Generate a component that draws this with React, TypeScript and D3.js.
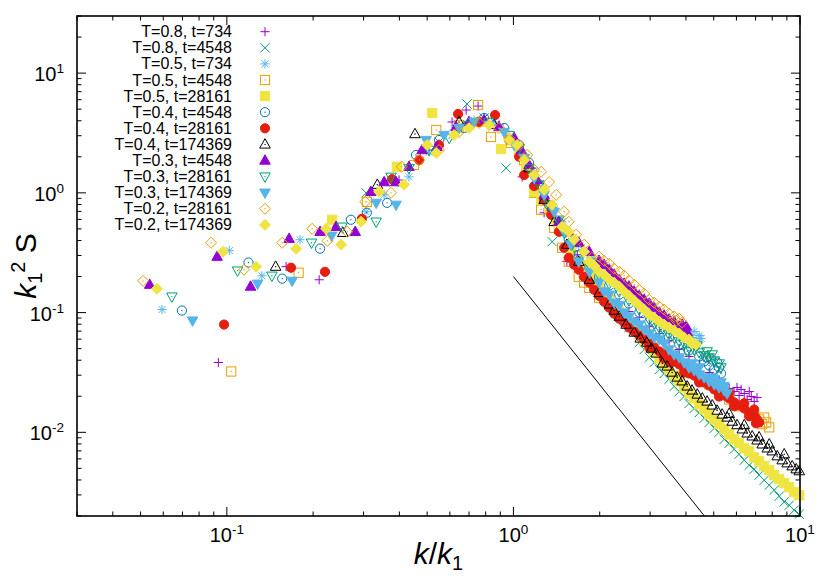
import * as d3 from 'd3';

const width = 830;
const height = 581;
const plot = { left: 77, right: 800, top: 16, bottom: 516 };

// legend labels, in plotting order
const seriesLabels = [
  'T=0.8, t=734', 'T=0.8, t=4548', 'T=0.5, t=734', 'T=0.5, t=4548', 'T=0.5, t=28161',
  'T=0.4, t=4548', 'T=0.4, t=28161', 'T=0.4, t=174369', 'T=0.3, t=4548', 'T=0.3, t=28161',
  'T=0.3, t=174369', 'T=0.2, t=28161', 'T=0.2, t=174369',
];

// [k/k1, k1^2 S]
const T08_t734: [number, number][] = [
  [0.0934, 0.0383], [0.161, 0.242], [0.210, 0.188], [0.399, 1.28], [0.508, 2.28], [0.611, 3.91], [0.684, 4.92],
  [0.753, 5.31], [0.891, 3.69], [1.073, 1.36], [1.16, 1.61], [1.28, 0.682], [1.387, 0.619], [1.537, 0.267],
  [1.67, 0.304], [1.84, 0.188], [1.99, 0.161],
  [2.16, 0.136], [2.34, 0.121], [2.53, 0.102], [2.75, 0.0908], [2.98, 0.0764], [3.23, 0.0669], [3.49, 0.0585],
  [3.79, 0.0492], [4.10, 0.0430], [4.45, 0.0369], [4.82, 0.0316], [5.22, 0.0272], [5.44, 0.0257], [5.66, 0.0232],
  [5.89, 0.0219], [6.03, 0.0237], [6.13, 0.0203], [6.23, 0.0228], [6.39, 0.0211], [6.54, 0.0188], [6.65, 0.0219],
  [6.76, 0.0199], [6.92, 0.0181], [7.08, 0.0195],
];
const T08_t4548: [number, number][] = [
  [0.306, 1.0], [0.383, 1.23], [0.550, 2.66], [0.689, 5.52], [0.790, 4.22], [0.943, 1.61], [1.047, 2.28],
  [1.134, 1.50], [1.229, 1.17], [1.365, 0.391], [1.56, 0.304], [1.69, 0.251], [1.84, 0.207], [1.99, 0.161],
  [2.16, 0.128], [2.34, 0.100],
  [2.53, 0.0750], [2.75, 0.0563], [2.86, 0.0492], [2.98, 0.0422], [3.10, 0.0383], [3.23, 0.0335], [3.36, 0.0310],
  [3.49, 0.0277], [3.64, 0.0242], [3.79, 0.0219], [3.94, 0.0199], [4.10, 0.0174], [4.27, 0.0158], [4.45, 0.0146],
  [4.63, 0.0131], [4.82, 0.0121], [5.02, 0.0108], [5.22, 0.0100], [5.44, 0.00874], [5.66, 0.00810], [5.89, 0.00722],
  [6.13, 0.00656], [6.39, 0.00585], [6.65, 0.00531], [6.92, 0.00492], [7.20, 0.00439], [7.50, 0.00398],
  [7.81, 0.00362], [8.13, 0.00329], [8.46, 0.00293], [8.81, 0.00262], [9.17, 0.00246], [9.54, 0.00224], [9.94, 0.00207],
];
const T05_t734: [number, number][] = [
  [0.0594, 0.106], [0.102, 0.329], [0.1325, 0.203], [0.180, 0.406], [0.306, 0.695], [0.354, 0.962], [0.432, 1.36],
  [0.508, 2.19], [0.621, 3.35], [0.729, 4.06], [0.856, 3.91], [1.006, 2.76], [1.09, 1.96], [1.181, 1.50],
  [1.28, 1.02], [1.387, 0.722], [1.479, 0.573],
  [1.56, 0.447], [1.629, 0.406], [1.69, 0.362], [1.765, 0.335], [1.84, 0.304], [1.913, 0.282], [1.99, 0.262],
  [2.073, 0.237], [2.16, 0.219], [2.246, 0.199], [2.34, 0.181], [2.434, 0.168], [2.53, 0.155], [2.638, 0.144],
  [2.75, 0.133], [2.859, 0.123], [2.98, 0.115], [3.098, 0.104], [3.23, 0.0962], [3.36, 0.0908], [3.49, 0.0841],
  [3.64, 0.0779], [3.79, 0.0722], [3.94, 0.0682], [4.10, 0.0656], [4.20, 0.0619], [4.27, 0.0695], [4.34, 0.0585],
  [4.45, 0.0644], [4.52, 0.0608],
];
const T05_t4548: [number, number][] = [
  [0.1036, 0.0322], [0.178, 0.215], [0.308, 0.841], [0.450, 1.71], [0.538, 3.35], [0.646, 3.69], [0.753, 5.41],
  [0.835, 2.93], [0.981, 2.61], [1.09, 1.88], [1.181, 1.0], [1.249, 0.722], [1.387, 0.51], [1.479, 0.348],
  [1.56, 0.266], [1.69, 0.199], [1.765, 0.178], [1.84, 0.161],
  [1.99, 0.133], [2.16, 0.115], [2.34, 0.0944], [2.53, 0.0841], [2.75, 0.0695], [2.98, 0.0596], [3.23, 0.0511],
  [3.49, 0.0447], [3.79, 0.0391], [4.10, 0.0335], [4.45, 0.0287], [4.82, 0.0251], [5.22, 0.0215], [5.66, 0.0188],
  [6.13, 0.0165], [6.65, 0.0144], [6.92, 0.0138], [7.20, 0.0128], [7.38, 0.0117], [7.50, 0.0133], [7.62, 0.0121],
  [7.81, 0.0110],
];
const T05_t28161: [number, number][] = [
  [0.233, 0.596], [0.392, 1.65], [0.521, 4.64], [0.646, 3.48], [0.759, 3.91], [0.906, 2.32], [1.047, 2.19],
  [1.107, 1.56], [1.181, 1.02], [1.249, 0.874], [1.332, 0.75], [1.41, 0.573], [1.503, 0.474], [1.587, 0.335],
  [1.69, 0.266], [1.765, 0.237], [1.84, 0.207], [1.913, 0.184],
  [1.99, 0.161], [2.073, 0.144], [2.16, 0.128], [2.246, 0.115], [2.34, 0.102], [2.434, 0.0908], [2.53, 0.0809],
  [2.638, 0.0735], [2.75, 0.0656], [2.859, 0.0585], [2.98, 0.0521], [3.098, 0.0474], [3.23, 0.0414], [3.357, 0.0376],
  [3.49, 0.0335], [3.638, 0.0298], [3.79, 0.0267], [3.943, 0.0237], [4.10, 0.0211], [4.273, 0.0192], [4.45, 0.0171],
  [4.63, 0.0155], [4.82, 0.0141], [5.02, 0.0128], [5.22, 0.0117], [5.44, 0.0106], [5.66, 0.00962], [5.89, 0.00874],
  [6.13, 0.00810], [6.39, 0.00735], [6.65, 0.00695], [6.92, 0.00619], [7.20, 0.00574], [7.50, 0.00521],
  [7.81, 0.00483], [8.13, 0.00439], [8.46, 0.00406], [8.81, 0.00376], [9.17, 0.00348], [9.54, 0.00316], [9.94, 0.00298],
];
const T04_t4548: [number, number][] = [
  [0.0697, 0.104], [0.119, 0.262], [0.156, 0.192], [0.2115, 0.342], [0.271, 0.596], [0.308, 0.682], [0.3625, 0.825],
  [0.457, 2.07], [0.550, 2.76], [0.673, 3.48], [0.790, 4.22], [0.928, 3.48], [1.047, 2.51], [1.134, 1.78],
  [1.229, 1.17], [1.332, 0.794], [1.44, 0.573], [1.56, 0.406],
  [1.69, 0.304], [1.84, 0.246], [1.99, 0.199], [2.16, 0.168], [2.34, 0.141], [2.53, 0.119],
  [2.75, 0.100], [2.98, 0.0841], [3.23, 0.0722], [3.49, 0.0619], [3.79, 0.0541], [4.10, 0.0483], [4.45, 0.0430],
  [4.63, 0.0391], [4.71, 0.0422], [4.82, 0.0362], [4.90, 0.0406], [5.02, 0.0335], [5.14, 0.0383], [5.22, 0.0348],
  [5.30, 0.0310],
];
const T04_t28161: [number, number][] = [
  [0.0978, 0.0794], [0.1675, 0.237], [0.220, 0.219], [0.296, 0.607], [0.377, 1.30], [0.469, 1.88], [0.550, 2.51],
  [0.641, 4.56], [0.759, 3.91], [0.863, 4.47], [0.966, 2.76], [1.047, 2.0], [1.090, 1.41], [1.181, 1.14],
  [1.280, 0.874], [1.354, 0.656], [1.44, 0.473],
  [1.503, 0.348], [1.56, 0.287], [1.629, 0.251], [1.69, 0.228], [1.765, 0.199], [1.84, 0.178], [1.913, 0.155],
  [1.99, 0.138], [2.073, 0.123], [2.16, 0.110], [2.246, 0.098], [2.34, 0.089], [2.434, 0.0825], [2.53, 0.0750],
  [2.638, 0.0695], [2.75, 0.0644], [2.859, 0.0596], [2.98, 0.0552], [2.98, 0.0511], [3.098, 0.0511], [3.23, 0.0474],
  [3.357, 0.0447], [3.357, 0.0414],
  [3.49, 0.0422], [3.54, 0.0383], [3.638, 0.0391], [3.79, 0.0369], [3.943, 0.0342], [3.943, 0.0316], [4.10, 0.0310],
  [4.10, 0.0348], [4.273, 0.0298], [4.45, 0.0277], [4.45, 0.0261], [4.63, 0.0261], [4.82, 0.0246], [5.02, 0.0228],
  [5.02, 0.0261], [5.22, 0.0215], [5.22, 0.0199], [5.44, 0.0203], [5.66, 0.0192], [5.66, 0.0215], [5.89, 0.0178],
  [5.89, 0.0165], [6.13, 0.0168], [6.39, 0.0158], [6.39, 0.0175], [6.65, 0.0146], [6.65, 0.0136], [6.92, 0.0138],
  [6.92, 0.0155], [7.02, 0.0119], [7.08, 0.0128], [7.20, 0.0121],
];
const T04_t174369: [number, number][] = [
  [0.148, 0.242], [0.254, 0.464], [0.335, 1.17], [0.4535, 3.10], [0.646, 3.91], [0.856, 3.69], [1.006, 2.76],
  [1.134, 1.61], [1.28, 0.874], [1.387, 0.573], [1.537, 0.369], [1.69, 0.266], [1.84, 0.188], [1.99, 0.146],
  [2.16, 0.117], [2.246, 0.104], [2.34, 0.0926], [2.474, 0.0794],
  [2.638, 0.0682], [2.77, 0.0608], [2.92, 0.0563], [3.03, 0.0501], [3.15, 0.0456], [3.31, 0.0376], [3.44, 0.0355],
  [3.58, 0.0316], [3.73, 0.0287], [3.88, 0.0267], [4.04, 0.0242], [4.20, 0.0224], [4.38, 0.0207], [4.56, 0.0192],
  [4.74, 0.0181], [4.94, 0.0168], [5.14, 0.0152], [5.35, 0.0141], [5.57, 0.0133], [5.66, 0.0143], [5.80, 0.0123],
  [6.03, 0.0115], [6.29, 0.0106], [6.39, 0.0115], [6.54, 0.0098], [6.81, 0.00926], [7.08, 0.00857], [7.20, 0.0091],
  [7.38, 0.00794], [7.69, 0.00735], [7.81, 0.00794], [8.00, 0.00695], [8.33, 0.00632], [8.67, 0.00585],
  [8.81, 0.00656], [9.02, 0.00552], [9.39, 0.00521], [9.70, 0.00492], [9.94, 0.00474],
];
const T03_t4548: [number, number][] = [
  [0.0538, 0.171], [0.0925, 0.293], [0.121, 0.165], [0.165, 0.414], [0.2115, 0.473], [0.2405, 0.521], [0.2805, 0.473],
  [0.318, 1.02], [0.354, 1.23], [0.3895, 1.23], [0.432, 1.65], [0.480, 2.28], [0.541, 2.42], [0.631, 3.55],
  [0.700, 3.91], [0.790, 4.06], [0.891, 3.55], [1.006, 2.87], [1.065, 2.28], [1.134, 1.71], [1.21, 1.28],
  [1.280, 0.962], [1.365, 0.764], [1.44, 0.573],
  [1.56, 0.473], [1.69, 0.384], [1.84, 0.322], [1.99, 0.271], [2.073, 0.251], [2.16, 0.228], [2.246, 0.207],
  [2.34, 0.188], [2.434, 0.1745], [2.53, 0.165], [2.638, 0.150], [2.75, 0.138], [2.859, 0.128], [2.98, 0.119],
  [3.098, 0.110], [3.23, 0.100], [3.357, 0.0944], [3.49, 0.0874], [3.638, 0.0841], [3.79, 0.0764], [3.88, 0.0794],
  [3.943, 0.0708], [4.01, 0.0764], [4.04, 0.0682],
];
const T03_t28161: [number, number][] = [
  [0.0643, 0.136], [0.109, 0.224], [0.1436, 0.203], [0.1975, 0.383], [0.2524, 0.521], [0.332, 0.574], [0.374, 1.36],
  [0.432, 1.61], [0.508, 2.28], [0.597, 2.87], [0.700, 3.69], [0.822, 3.91], [0.966, 3.04], [1.047, 2.37],
  [1.134, 1.61], [1.229, 1.17], [1.332, 0.794], [1.44, 0.596], [1.503, 0.464], [1.60, 0.369],
  [1.69, 0.304], [1.84, 0.251], [1.99, 0.207], [2.16, 0.1745], [2.34, 0.150],
  [2.53, 0.126], [2.75, 0.106], [2.98, 0.0874], [3.098, 0.0809], [3.23, 0.0750], [3.357, 0.0708], [3.49, 0.0656],
  [3.638, 0.0619], [3.79, 0.0574], [3.943, 0.0552], [4.04, 0.0474], [4.10, 0.0511], [4.273, 0.0492], [4.38, 0.0531],
  [4.45, 0.0464], [4.63, 0.0439], [4.74, 0.0474], [4.82, 0.0422], [4.94, 0.0447], [5.02, 0.0398], [5.22, 0.0376],
  [5.30, 0.0348],
];
const T03_t174369: [number, number][] = [
  [0.0759, 0.0857], [0.128, 0.174], [0.169, 0.184], [0.232, 0.438], [0.332, 0.825], [0.3895, 0.794], [0.496, 2.76],
  [0.573, 3.04], [0.646, 3.48], [0.729, 3.91], [0.822, 3.69], [0.928, 3.22], [1.006, 2.51], [1.090, 1.96],
  [1.181, 1.33], [1.280, 0.962], [1.387, 0.695], [1.503, 0.473], [1.587, 0.369],
  [1.69, 0.266], [1.84, 0.219], [1.99, 0.178], [2.073, 0.150], [2.16, 0.141], [2.246, 0.121], [2.34, 0.115],
  [2.434, 0.100], [2.53, 0.0926], [2.638, 0.0841], [2.75, 0.0794], [2.859, 0.0722], [2.98, 0.0669], [3.098, 0.0619],
  [3.23, 0.0596], [3.357, 0.0552], [3.49, 0.0492], [3.638, 0.0447],
  [3.79, 0.0422], [3.943, 0.0383], [4.10, 0.0348], [4.20, 0.0376], [4.273, 0.0329], [4.45, 0.0304], [4.45, 0.0348],
  [4.63, 0.0287], [4.82, 0.0267], [4.94, 0.0287], [5.02, 0.0251], [5.02, 0.0277], [5.22, 0.0237], [5.30, 0.0261],
  [5.44, 0.0224], [5.44, 0.0242], [5.57, 0.0211],
];
const T02_t28161: [number, number][] = [
  [0.0510, 0.184], [0.0881, 0.383], [0.1148, 0.228], [0.156, 0.383], [0.1985, 0.501], [0.2245, 0.398], [0.263, 0.473],
  [0.304, 0.841], [0.374, 1.0], [0.408, 1.65], [0.469, 1.88], [0.550, 2.28], [0.646, 3.22], [0.759, 3.84],
  [0.891, 3.48], [0.966, 2.87], [1.047, 2.51], [1.117, 2.07], [1.181, 1.56], [1.249, 1.50], [1.332, 1.23],
  [1.41, 0.962], [1.503, 0.695], [1.56, 0.573], [1.655, 0.447], [1.765, 0.369],
  [1.88, 0.287], [1.99, 0.293], [2.073, 0.271], [2.16, 0.256], [2.246, 0.2325], [2.34, 0.219], [2.434, 0.203],
  [2.53, 0.1845], [2.638, 0.171], [2.75, 0.155], [2.859, 0.144], [2.98, 0.128], [3.098, 0.121], [3.23, 0.112],
  [3.357, 0.106], [3.49, 0.098], [3.638, 0.0926], [3.70, 0.0857], [3.79, 0.089], [3.88, 0.0825],
];
const T02_t174369: [number, number][] = [
  [0.0570, 0.158], [0.097, 0.322], [0.1265, 0.242], [0.1746, 0.342], [0.222, 0.501], [0.2505, 0.369], [0.294, 0.574],
  [0.340, 1.02], [0.415, 1.17], [0.500, 2.51], [0.538, 2.15], [0.621, 3.04], [0.700, 3.48], [0.822, 3.69],
  [0.966, 2.76], [1.03, 2.51], [1.090, 1.88], [1.181, 1.41], [1.280, 1.06], [1.365, 0.794], [1.479, 0.521],
  [1.56, 0.473], [1.629, 0.406], [1.765, 0.322], [1.84, 0.266],
  [1.913, 0.246], [1.99, 0.219], [2.073, 0.207], [2.16, 0.188], [2.246, 0.178], [2.34, 0.165], [2.434, 0.150],
  [2.53, 0.138], [2.638, 0.126], [2.75, 0.115], [2.859, 0.106], [2.98, 0.0962], [3.098, 0.0908], [3.23, 0.0841],
  [3.357, 0.0794], [3.49, 0.0750], [3.638, 0.0708], [3.79, 0.0669], [3.943, 0.0619], [4.10, 0.0596], [4.20, 0.0552],
  [4.34, 0.0541],
];

// k^-3 guide line end points
const guideLine: [number, number][] = [[1, 0.2], [4.64, 0.002]];

const seriesData = [
  T08_t734, T08_t4548, T05_t734, T05_t4548, T05_t28161, T04_t4548, T04_t28161,
  T04_t174369, T03_t4548, T03_t28161, T03_t174369, T02_t28161, T02_t174369,
];

const colors = [
  '#9400d3', '#009e73', '#56b4e9', '#e69f00', '#f0e442', '#0072b2', '#e51e10',
  '#000000', '#9400d3', '#009e73', '#56b4e9', '#e69f00', '#f0e442',
];
const shapes = [
  'plus', 'cross', 'star', 'square', 'squareFill', 'circle', 'circleFill',
  'tri', 'triFill', 'itri', 'itriFill', 'diamond', 'diamondFill',
];

const font = "'Liberation Sans', Arial, Helvetica, sans-serif";

function marker(shape: string, x: number, y: number, c: string, key: string) {
  const h = 4.6;
  const dot = <circle cx={x} cy={y} r={0.7} fill={c} />;
  switch (shape) {
    case 'plus':
      return <path key={key} d={`M${x - h},${y}H${x + h}M${x},${y - h}V${y + h}`} stroke={c} fill="none" />;
    case 'cross':
      return <path key={key} d={`M${x - h},${y - h}L${x + h},${y + h}M${x - h},${y + h}L${x + h},${y - h}`} stroke={c} fill="none" />;
    case 'star':
      return (
        <path key={key}
          d={`M${x - h},${y}H${x + h}M${x},${y - h}V${y + h}M${x - h * 0.75},${y - h * 0.75}L${x + h * 0.75},${y + h * 0.75}M${x - h * 0.75},${y + h * 0.75}L${x + h * 0.75},${y - h * 0.75}`}
          stroke={c} fill="none" />
      );
    case 'square':
    case 'squareFill': {
      const f = shape === 'squareFill';
      return (
        <g key={key}>
          <rect x={x - h} y={y - h} width={2 * h} height={2 * h} fill={f ? c : 'none'} stroke={c} />
          {!f && dot}
        </g>
      );
    }
    case 'circle':
    case 'circleFill': {
      const f = shape === 'circleFill';
      return (
        <g key={key}>
          <circle cx={x} cy={y} r={h} fill={f ? c : 'none'} stroke={c} />
          {!f && dot}
        </g>
      );
    }
    case 'tri':
    case 'triFill':
    case 'itri':
    case 'itriFill': {
      const f = shape.endsWith('Fill');
      const s = shape.startsWith('i') ? -1 : 1;
      const pts = [
        [x, y - s * h * 1.25], [x - h * 1.15, y + s * h * 0.8], [x + h * 1.15, y + s * h * 0.8],
      ].map(p => p.join(',')).join(' ');
      return (
        <g key={key}>
          <polygon points={pts} fill={f ? c : 'none'} stroke={c} />
          {!f && dot}
        </g>
      );
    }
    default: {
      const f = shape === 'diamondFill';
      const d = h * 1.2;
      const pts = `${x},${y - d} ${x + d},${y} ${x},${y + d} ${x - d},${y}`;
      return (
        <g key={key}>
          <polygon points={pts} fill={f ? c : 'none'} stroke={c} />
          {!f && dot}
        </g>
      );
    }
  }
}

const isMajor = (t: number) => Math.abs(Math.log10(t) - Math.round(Math.log10(t))) < 1e-6;

export default function App() {
  const x = d3.scaleLog().domain([0.03, 10]).range([plot.left, plot.right]);
  const y = d3.scaleLog().domain([0.002, 30]).range([plot.bottom, plot.top]);
  const line = d3.line<[number, number]>().x(d => x(d[0])).y(d => y(d[1]));

  const xTicks = x.ticks();
  const yTicks = y.ticks();
  const majorLen = 9;
  const minorLen = 4.5;

  return (
    <svg width={width} height={height} style={{ position: 'absolute', left: 0, top: 0, background: '#fff' }}
      fontFamily={font}>
      <rect width={width} height={height} fill="#fff" />

      {/* ticks */}
      <g stroke="#000" strokeWidth={1}>
        {xTicks.map((t, i) => {
          const len = isMajor(t) ? majorLen : minorLen;
          const px = x(t);
          return (
            <g key={'xt' + i}>
              <line x1={px} x2={px} y1={plot.bottom} y2={plot.bottom - len} />
              <line x1={px} x2={px} y1={plot.top} y2={plot.top + len} />
            </g>
          );
        })}
        {yTicks.map((t, i) => {
          const len = isMajor(t) ? majorLen : minorLen;
          const py = y(t);
          return (
            <g key={'yt' + i}>
              <line x1={plot.left} x2={plot.left + len} y1={py} y2={py} />
              <line x1={plot.right} x2={plot.right - len} y1={py} y2={py} />
            </g>
          );
        })}
      </g>

      {/* tick labels */}
      <g fontSize={20} fill="#000">
        {xTicks.filter(isMajor).map((t, i) => (
          <text key={'xl' + i} x={x(t)} y={plot.bottom + 26} textAnchor="middle">
            10<tspan fontSize={13.5} dy={-8}>{Math.round(Math.log10(t))}</tspan>
          </text>
        ))}
        {yTicks.filter(isMajor).map((t, i) => (
          <text key={'yl' + i} x={plot.left - 13} y={y(t) + 8} textAnchor="end">
            10<tspan fontSize={13.5} dy={-8}>{Math.round(Math.log10(t))}</tspan>
          </text>
        ))}
      </g>

      {/* axis titles */}
      <text x={(plot.left + plot.right) / 2} y={564} fontSize={30} textAnchor="middle">
        <tspan fontStyle="italic">k</tspan>/<tspan fontStyle="italic">k</tspan>
        <tspan fontSize={20} dy={6}>1</tspan>
      </text>
      <text transform={`translate(36,${(plot.top + plot.bottom) / 2}) rotate(-90)`} fontSize={30} textAnchor="middle">
        <tspan fontStyle="italic">k</tspan>
        <tspan fontSize={20} dy={6}>1</tspan>
        <tspan fontSize={20} dy={-17}>2</tspan>
        <tspan dy={11}> S</tspan>
      </text>

      {/* guide line */}
      <path d={line(guideLine) ?? ''} fill="none" stroke="#000" strokeWidth={1} />

      {/* data */}
      <g strokeWidth={1}>
        {seriesData.map((data, si) => (
          <g key={'s' + si}>
            {data.map((d, j) => marker(shapes[si], x(d[0]), y(d[1]), colors[si], `p${si}-${j}`))}
          </g>
        ))}
      </g>

      {/* legend */}
      <g fontSize={16}>
        {seriesLabels.map((lab, i) => {
          const cy = 31.7 + i * 16.1;
          return (
            <g key={'lg' + i}>
              <text x={232} y={cy + 5.5} textAnchor="end">{lab}</text>
              {marker(shapes[i], 265, cy, colors[i], 'lm' + i)}
            </g>
          );
        })}
      </g>

      {/* frame */}
      <rect x={plot.left} y={plot.top} width={plot.right - plot.left} height={plot.bottom - plot.top}
        fill="none" stroke="#000" strokeWidth={1.6} />
    </svg>
  );
}
